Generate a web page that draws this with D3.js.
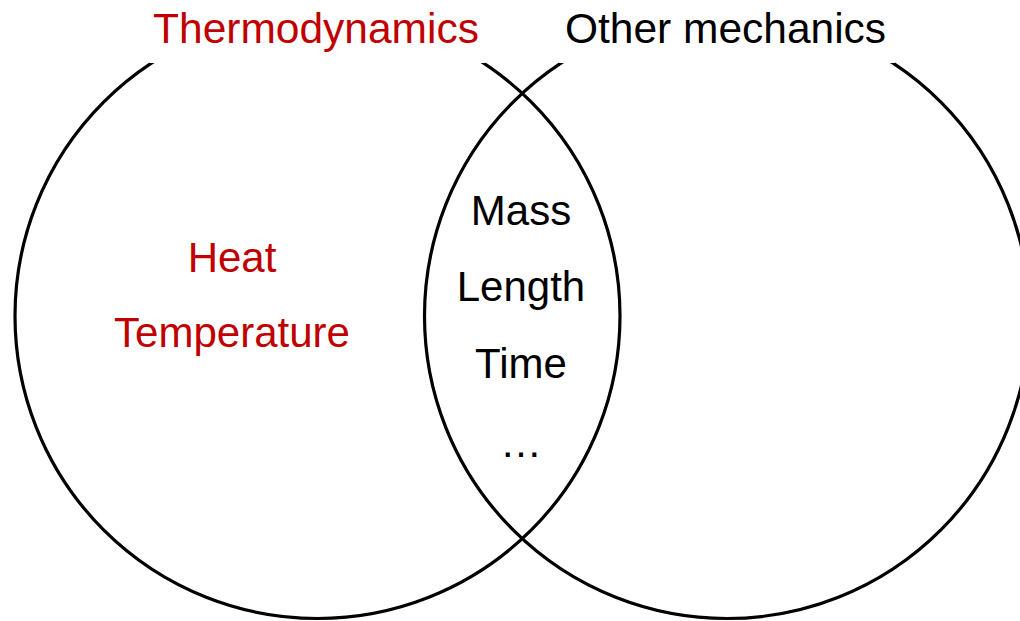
<!DOCTYPE html>
<html>
<head>
<meta charset="utf-8">
<script src="https://cdn.jsdelivr.net/npm/d3@7"></script>
<style>
  html, body { margin: 0; padding: 0; background: #fff; }
  svg { display: block; }
</style>
</head>
<body>
<svg id="chart" width="1020" height="621"></svg>
<script>
// ---- Data ----
const sets = ["Thermodynamics", "Other mechanics"];
const setColors = ["#C00000", "#000000"];
const leftOnlyItems = ["Heat", "Temperature"];
const sharedItems = ["Mass", "Length", "Time", "\u2026"];

// ---- Layout ----
const W = 1020, H = 621;
const svg = d3.select("#chart");
const font = "'Liberation Sans', Arial, Helvetica, sans-serif";

// point scale placing the two set circles
const x = d3.scalePoint().domain(sets).range([317.5, 727]);
const cy = 316, r = 302.5;

// circles
svg.selectAll("circle.set")
  .data(sets)
  .join("circle")
  .attr("class", "set")
  .attr("cx", d => x(d))
  .attr("cy", cy)
  .attr("r", r)
  .attr("fill", "none")
  .attr("stroke", "#000")
  .attr("stroke-width", 3.2);

// title labels with white backing
const titles = svg.selectAll("g.title")
  .data(sets)
  .join("g")
  .attr("class", "title");
titles.append("rect")
  .attr("x", d => x(d) - 168)
  .attr("y", 0)
  .attr("width", 336)
  .attr("height", 63)
  .attr("fill", "#fff");
titles.append("text")
  .attr("x", d => x(d) - 1.5)
  .attr("y", 43)
  .attr("text-anchor", "middle")
  .attr("font-family", font)
  .attr("font-size", 42.5)
  .attr("fill", (d, i) => setColors[i])
  .text(d => d);

// left-only items
const yLeft = d3.scalePoint().domain(leftOnlyItems).range([271.5, 346.5]);
svg.selectAll("text.left")
  .data(leftOnlyItems)
  .join("text")
  .attr("class", "left")
  .attr("x", 232)
  .attr("y", d => yLeft(d))
  .attr("text-anchor", "middle")
  .attr("font-family", font)
  .attr("font-size", 42)
  .attr("fill", setColors[0])
  .text(d => d);

// shared items
const yShared = d3.scalePoint().domain(sharedItems).range([225, 454]);
svg.selectAll("text.shared")
  .data(sharedItems)
  .join("text")
  .attr("class", "shared")
  .attr("x", 521)
  .attr("y", (d, i) => yShared(d) + (i === 3 ? 3 : 0))
  .attr("text-anchor", "middle")
  .attr("font-family", font)
  .attr("font-size", 42)
  .attr("fill", "#000")
  .text(d => d);
</script>
</body>
</html>
